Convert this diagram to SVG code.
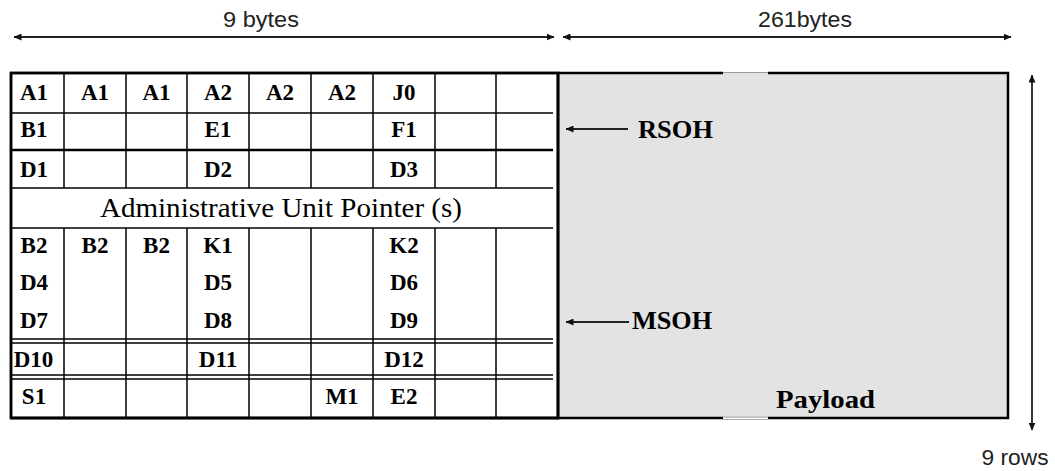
<svg xmlns="http://www.w3.org/2000/svg" width="1055" height="471" viewBox="0 0 1055 471">
<style>
.cell{font-family:"Liberation Serif","Times New Roman",serif;font-weight:bold;font-size:23px;fill:#000;text-anchor:middle}
.lab{font-family:"Liberation Serif","Times New Roman",serif;font-weight:bold;font-size:26px;fill:#000}
.dim{font-family:"Liberation Sans",Arial,sans-serif;font-size:22px;fill:#222}
.thin{stroke:#000;stroke-width:1.5;fill:none}
.thick{stroke:#000;stroke-width:2.5;fill:none}
.conn{stroke:#222;stroke-width:1.8;fill:none}
</style>
<defs>
<marker id="ah" markerWidth="8" markerHeight="7" refX="7.5" refY="3.5" orient="auto-start-reverse" markerUnits="userSpaceOnUse">
<path d="M0,0 L8,3.5 L0,7 Z" fill="#111"/>
</marker>
</defs>
<rect width="1055" height="471" fill="#fff"/>

<g id="payload">
<rect x="558" y="73" width="450" height="345" fill="#e3e3e3"/>
<path class="thick" d="M558,73 H723 M768,73 H1008 V418 H768 M723,418 H558 V73" stroke-width="3"/>
<line x1="723" y1="72.5" x2="768" y2="72.5" stroke="#999" stroke-width="1"/>
<line x1="723" y1="417" x2="768" y2="417" stroke="#aaa" stroke-width="1"/>
<line x1="723" y1="419.5" x2="768" y2="419.5" stroke="#aaa" stroke-width="1"/>
<text class="lab" x="776" y="408" font-size="28" textLength="99" lengthAdjust="spacingAndGlyphs">Payload</text>
</g>

<g id="soh-table">
<rect x="11" y="73" width="547" height="345" fill="#fff" class="thick"/>
<g class="thin">
<line x1="11" y1="113" x2="553" y2="113"/>
<line x1="11" y1="188" x2="553" y2="188"/>
<line x1="11" y1="228" x2="553" y2="228"/>
<line x1="11" y1="339" x2="553" y2="339"/>
<line x1="11" y1="343" x2="553" y2="343"/>
<line x1="11" y1="375" x2="553" y2="375"/>
<line x1="11" y1="379" x2="553" y2="379"/>
<path d="M64,73 V188 M126,73 V188 M187,73 V188 M249,73 V188 M311,73 V188 M373,73 V188 M435,73 V188 M496,73 V188"/>
<path d="M64,228 V418 M126,228 V418 M187,228 V418 M249,228 V418 M311,228 V418 M373,228 V418 M435,228 V418 M496,228 V418"/>
</g>
<line x1="11" y1="150" x2="553" y2="150" class="thick"/>
<rect x="11" y="73" width="547" height="345" class="thick"/>
<path class="thick" d="M11,418 H558" stroke-width="3"/>

<text class="cell" x="34" y="100">A1</text>
<text class="cell" x="95" y="100">A1</text>
<text class="cell" x="156.5" y="100">A1</text>
<text class="cell" x="218" y="100">A2</text>
<text class="cell" x="280" y="100">A2</text>
<text class="cell" x="342" y="100">A2</text>
<text class="cell" x="404" y="100">J0</text>

<text class="cell" x="34" y="137">B1</text>
<text class="cell" x="218" y="137">E1</text>
<text class="cell" x="404" y="137">F1</text>

<text class="cell" x="34" y="177">D1</text>
<text class="cell" x="218" y="177">D2</text>
<text class="cell" x="404" y="177">D3</text>

<text x="281" y="217" font-family="Liberation Serif, Times New Roman, serif" font-size="27" text-anchor="middle" textLength="362" lengthAdjust="spacingAndGlyphs">Administrative Unit Pointer (s)</text>

<text class="cell" x="34" y="253">B2</text>
<text class="cell" x="95" y="253">B2</text>
<text class="cell" x="156.5" y="253">B2</text>
<text class="cell" x="218" y="253">K1</text>
<text class="cell" x="404" y="253">K2</text>

<text class="cell" x="34" y="290">D4</text>
<text class="cell" x="218" y="290">D5</text>
<text class="cell" x="404" y="290">D6</text>

<text class="cell" x="34" y="328">D7</text>
<text class="cell" x="218" y="328">D8</text>
<text class="cell" x="404" y="328">D9</text>

<text class="cell" x="33.5" y="367">D10</text>
<text class="cell" x="218" y="367">D11</text>
<text class="cell" x="404" y="367">D12</text>

<text class="cell" x="34" y="404">S1</text>
<text class="cell" x="342" y="404">M1</text>
<text class="cell" x="404" y="404">E2</text>
</g>

<g id="rsoh-label"><text class="lab" x="638" y="138" textLength="75" lengthAdjust="spacingAndGlyphs">RSOH</text></g>
<g id="msoh-label"><text class="lab" x="632" y="329" textLength="80" lengthAdjust="spacingAndGlyphs">MSOH</text></g>
<g id="dim-9bytes"><text class="dim" x="261" y="27" text-anchor="middle" textLength="76" lengthAdjust="spacingAndGlyphs">9 bytes</text></g>
<g id="dim-261bytes"><text class="dim" x="805" y="27" text-anchor="middle" textLength="94" lengthAdjust="spacingAndGlyphs">261bytes</text></g>
<g id="dim-9rows"><text class="dim" x="1015" y="465" text-anchor="middle" textLength="67" lengthAdjust="spacingAndGlyphs">9 rows</text></g>

<g id="connectors">
<line class="conn" x1="14" y1="37" x2="554" y2="37" marker-start="url(#ah)" marker-end="url(#ah)"/>
<line class="conn" x1="563" y1="37" x2="1011" y2="37" marker-start="url(#ah)" marker-end="url(#ah)"/>
<line class="conn" x1="1032" y1="75" x2="1032" y2="430" marker-start="url(#ah)" marker-end="url(#ah)" stroke-width="1.5"/>
<line class="conn" x1="628" y1="129" x2="566" y2="129" marker-end="url(#ah)" stroke-width="1.5"/>
<line class="conn" x1="629" y1="322" x2="566" y2="322" marker-end="url(#ah)" stroke-width="1.5"/>
</g>
</svg>
